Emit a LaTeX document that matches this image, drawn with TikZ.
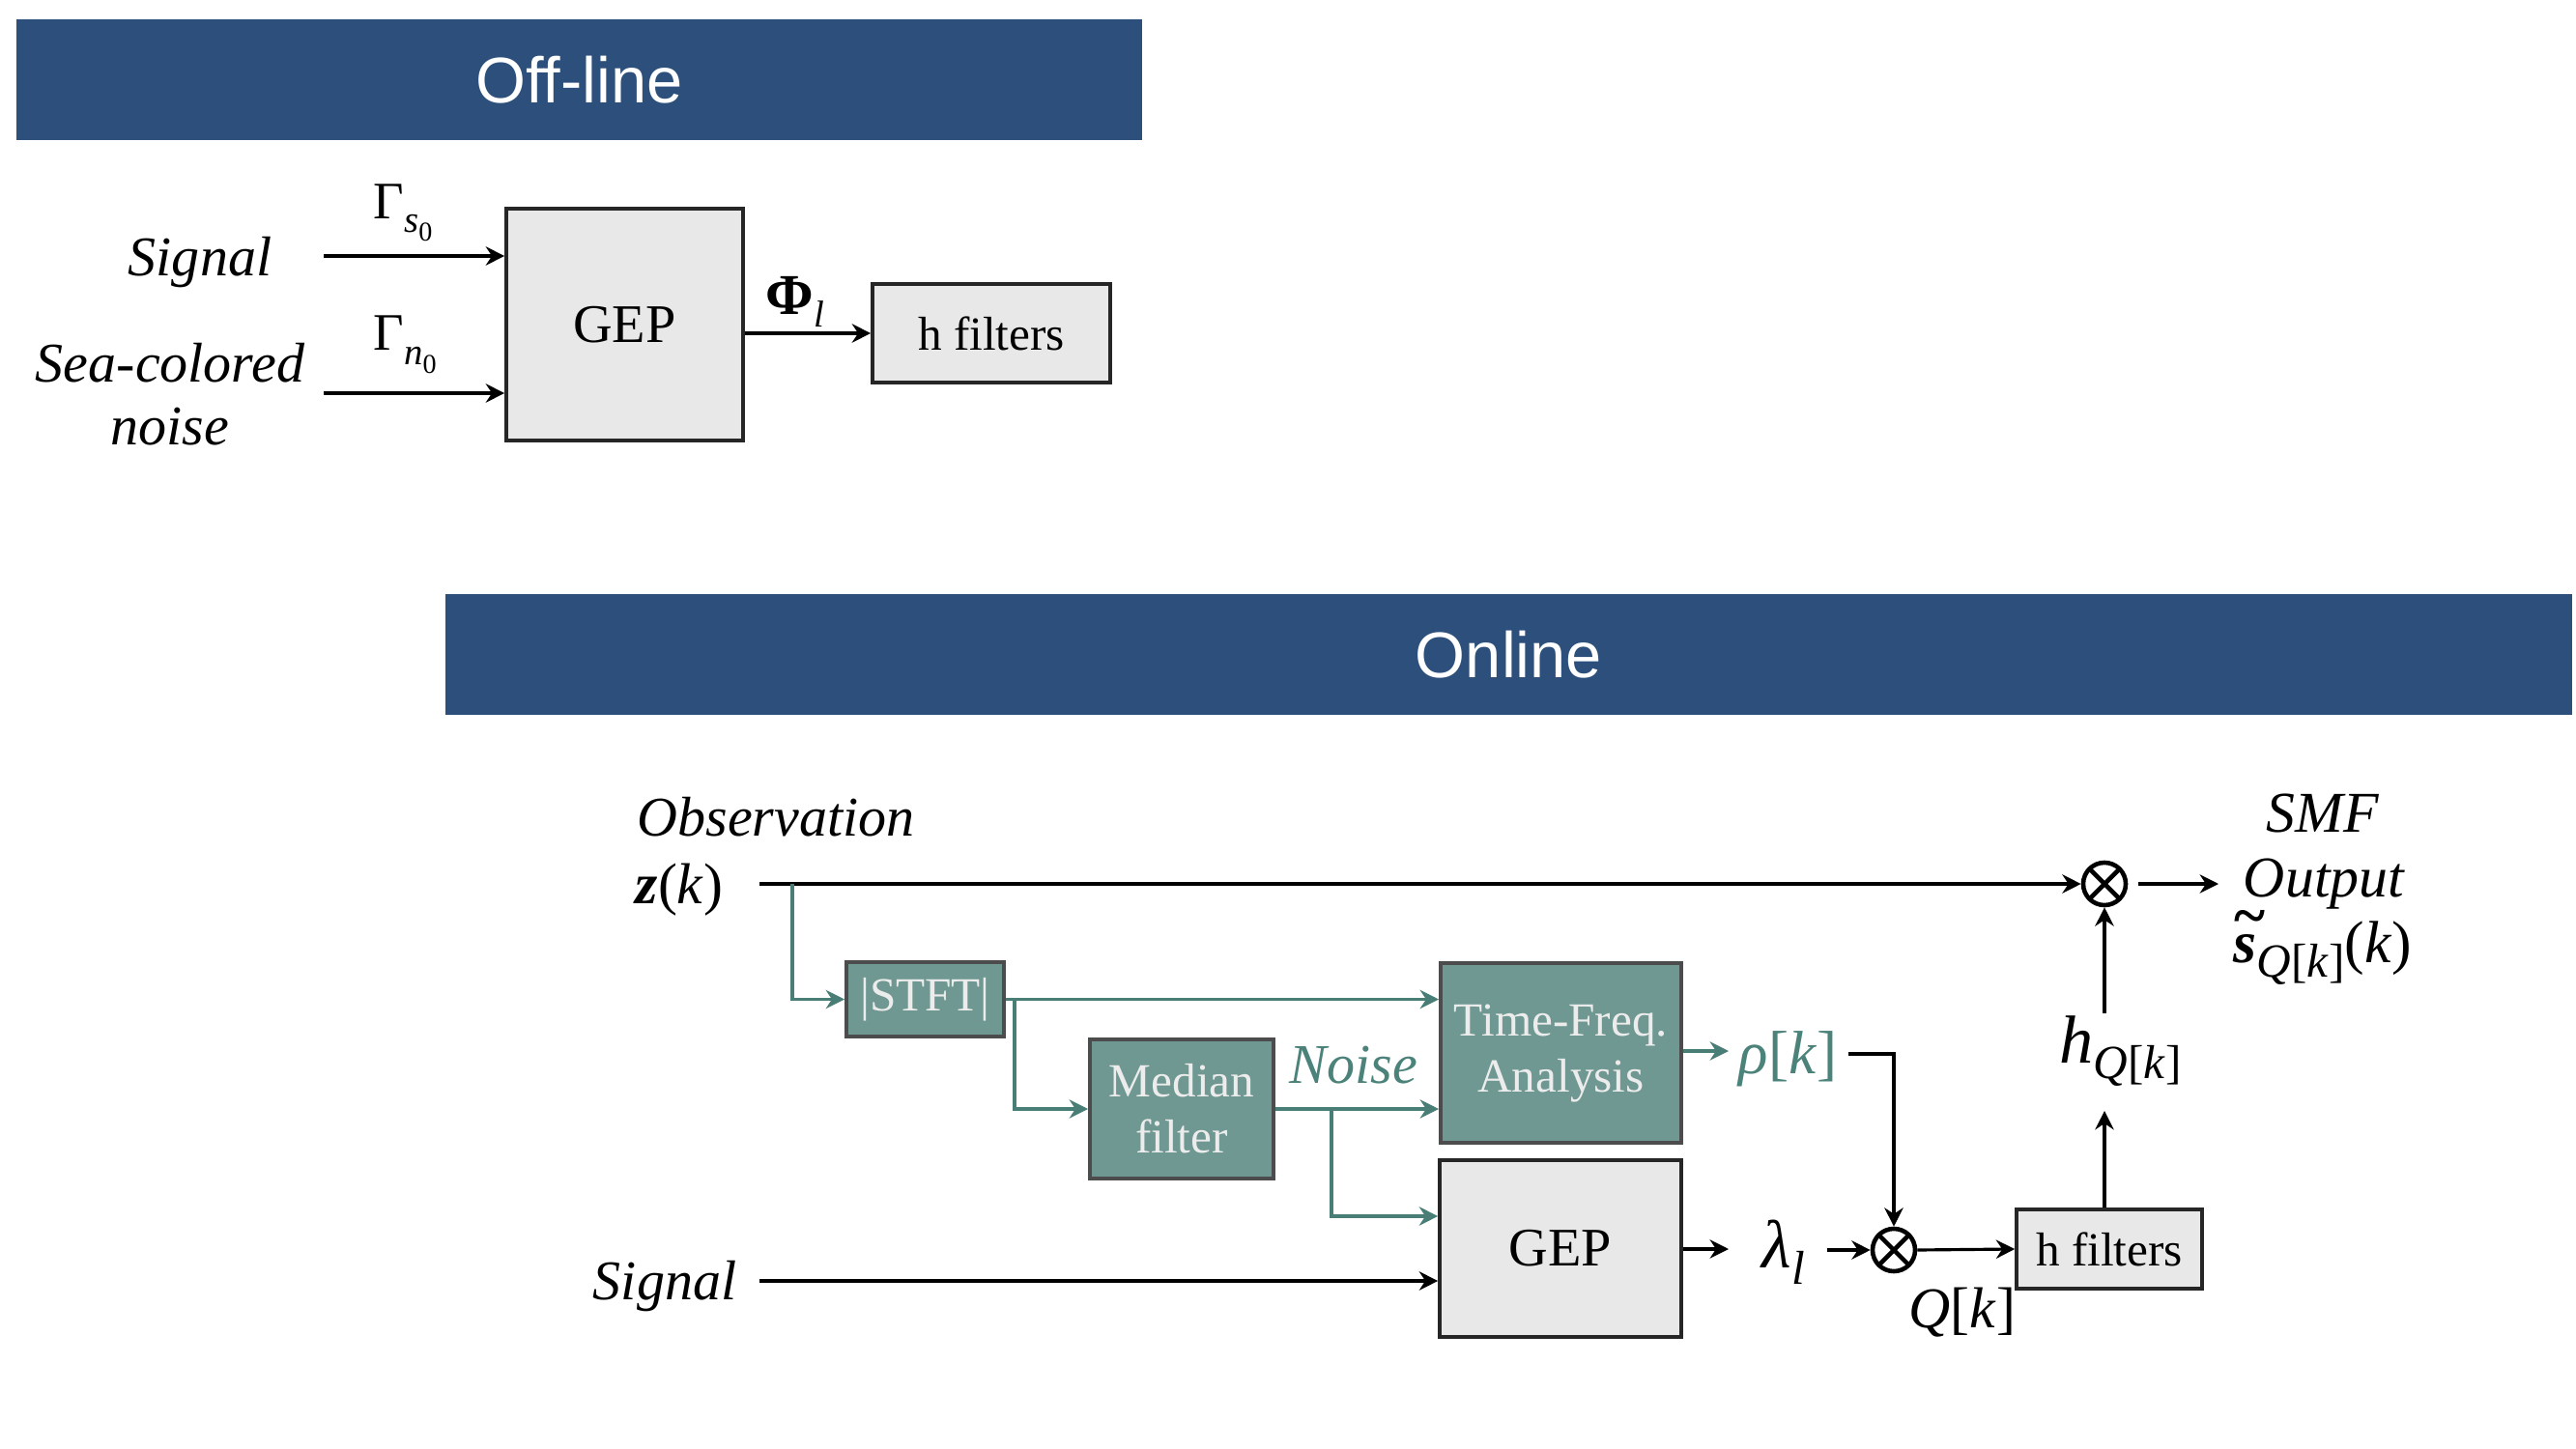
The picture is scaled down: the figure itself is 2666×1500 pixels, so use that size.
\documentclass[tikz,border=0pt]{standalone}
\usepackage{fontspec}
\setmainfont{Liberation Serif}
\newfontfamily\bannerfont{Liberation Sans}
\usetikzlibrary{arrows.meta}
\definecolor{bannerblue}{RGB}{44,79,124}
\definecolor{tealfill}{RGB}{110,152,145}
\definecolor{tealline}{RGB}{72,126,118}
\definecolor{tealtext}{RGB}{75,130,122}
\definecolor{boxgray}{RGB}{232,232,232}
\definecolor{boxtext}{RGB}{236,236,236}
\newcommand{\fs}[1]{\fontsize{#1}{#1}\selectfont}
\newcommand{\lowered}[3]{\raisebox{-#1pt}{\fs{#2}#3}}
\newcommand{\tildes}{\ooalign{\textbf{\textit{s}}\cr\hidewidth\kern0.15em\raisebox{0.45em}{\textbf{\textasciitilde}}\hidewidth\cr}}
\begin{document}
\begin{tikzpicture}[x=0.01cm,y=-0.01cm,
  banner/.style={fill=bannerblue, draw=none, inner sep=0, text=white, font=\bannerfont\fs{19}},
  graybox/.style={draw=black!85, fill=boxgray, line width=1pt, inner sep=0, font=\fs{16}},
  tealbox/.style={draw=black!70, fill=tealfill, line width=1.1pt, inner sep=0, text=boxtext, align=center, font=\fontsize{14}{16.5}\selectfont},
  lbl/.style={inner sep=0, anchor=base, font=\itshape\fs{16.5}},
  mlbl/.style={inner sep=0, anchor=base west},
  arr/.style={line width=0.9pt, -{Stealth[length=5.5pt,width=5.5pt]}},
  tarr/.style={arr, draw=tealline},
  otimes/.style={circle, draw, line width=1.3pt, minimum size=0.44cm, inner sep=0,
    path picture={\draw[line width=1.3pt] (path picture bounding box.north west) -- (path picture bounding box.south east)
      (path picture bounding box.north east) -- (path picture bounding box.south west);}}
]
\useasboundingbox (0,0) rectangle (2666,1500);

% ---------- Off-line ----------
\node[banner, minimum width=11.65cm, minimum height=1.25cm] (b1) at (599.5,82.5) {Off-line};
\node[graybox, minimum width=2.45cm, minimum height=2.40cm] (gep1) at (646.5,336) {\raisebox{-4.5pt}{GEP}};
\node[graybox, font=\fs{14}, minimum width=2.46cm, minimum height=1.02cm] (hf1) at (1026,345) {h filters};
\node[lbl] (sig1) at (207,285) {Signal};
\node[lbl] (sea) at (176,395) {Sea-colored};
\node[lbl] (noi1) at (176,460) {noise};
\coordinate (s1) at (335,265);
\coordinate (n1) at (335,407);
\draw[arr] (s1) -- (s1 -| gep1.west);
\draw[arr] (n1) -- (n1 -| gep1.west);
\node[mlbl, font=\fs{15.5}] (gs) at (386,226) {Γ\lowered{4}{11}{\textit{s}\lowered{2.8}{8}{0}}};
\node[mlbl, font=\fs{15.5}] (gn) at (386,363) {Γ\lowered{4}{11}{\textit{n}\lowered{2.8}{8}{0}}};
\node[mlbl, font=\fs{17}] (phi) at (792,325) {\textbf{Φ}\lowered{3.7}{11}{\textit{l}}};
\draw[arr] (gep1.east |- hf1.west) -- (hf1.west);

% ---------- Online ----------
\node[banner, minimum width=21.99cm, minimum height=1.25cm] (b2) at (1561.5,677.5) {Online};
\node[lbl] (obs) at (803,865) {Observation};
\node[inner sep=0, anchor=base, font=\fs{17}] (z) at (703,935) {\textbf{\textit{z}}(\textit{k})};
\node[otimes] (m1) at (2178,915) {};
\coordinate (zs) at (786,915);
\draw[arr] (zs) -- (m1.west);
\coordinate (outend) at (2296,915);
\draw[arr] ([xshift=3pt]m1.east) -- (outend);
\node[lbl, font=\itshape\fs{17}] (smf) at (2404,861) {SMF};
\node[lbl, font=\itshape\fs{17}] (outp) at (2405,928) {Output};
\node[inner sep=0, anchor=base, font=\fs{17.5}] (shat) at (2404,996) {\tildes\lowered{4.5}{14}{\textit{Q}[\textit{k}]}(\textit{k})};

\node[tealbox, minimum width=1.63cm, minimum height=0.77cm] (stft) at (957.5,1034.5) {\raisebox{-2pt}{|STFT|}};
\node[tealbox, minimum width=1.90cm, minimum height=1.44cm] (med) at (1223,1148) {Median\\filter};
\node[tealbox, minimum width=2.49cm, minimum height=1.86cm] (tf) at (1615.5,1090) {\raisebox{-5pt}{\begin{tabular}{@{}c@{}}Time-Freq.\\Analysis\end{tabular}}};
\node[graybox, minimum width=2.50cm, minimum height=1.83cm] (gep2) at (1615,1292.5) {\raisebox{-1.5pt}{GEP}};

\coordinate (br0) at (820,915);
\draw[tarr] (br0) |- (stft.west);
\draw[tarr] (stft.east) -- (stft.east -| tf.west);
\coordinate (br1) at (1050,1035);
\draw[tarr] (br1) |- (med.west);
\draw[tarr] (med.east) -- (med.east -| tf.west);
\coordinate (br2) at (1378,1148);
\coordinate (br3) at (1378,1259);
\draw[tarr] (br2) -- (br3) -- (br3 -| gep2.west);
\node[lbl, text=tealtext] (noise) at (1401,1121) {Noise};

\node[lbl] (sig2) at (688,1345) {Signal};
\coordinate (s2) at (786,1326);
\draw[arr] (s2) -- (s2 -| gep2.west);

\coordinate (g2o) at (1789,1293);
\draw[arr] (gep2.east |- g2o) -- (g2o);
\node[mlbl, font=\fs{20}] (lam) at (1823,1312) {\textit{λ}\lowered{5}{14}{\textit{l}}};
\node[otimes] (m2) at (1960,1294) {};
\coordinate (lamo) at (1891,1294);
\draw[arr] (lamo) -- (m2.west);

\coordinate (tfo) at (1789,1088);
\draw[tarr] (tf.east |- tfo) -- (tfo);
\node[mlbl, font=\fs{18}, text=tealtext] (rho) at (1799,1111) {\textit{ρ}[\textit{k}]};
\coordinate (rh1) at (1913,1091);
\draw[arr] (rh1) -| (m2.north);

\node[graybox, font=\fs{14}, minimum width=1.92cm, minimum height=0.82cm] (hf2) at (2183,1293) {h filters};
\draw[arr] (m2.east) -- (hf2.west);
\node[lbl, font=\fs{17}] (q) at (2031,1374) {\textit{Q}[\textit{k}]};

\coordinate (hv1) at (2178,1150);
\draw[arr] (hv1 |- hf2.north) -- (hv1);
\node[mlbl, font=\fs{20}] (hq) at (2131,1100) {\textit{h}\lowered{4.8}{14}{\textit{Q}[\textit{k}]}};
\coordinate (hv2) at (2178,1049);
\draw[arr] (hv2) -- (m1.south);
\end{tikzpicture}
\end{document}
